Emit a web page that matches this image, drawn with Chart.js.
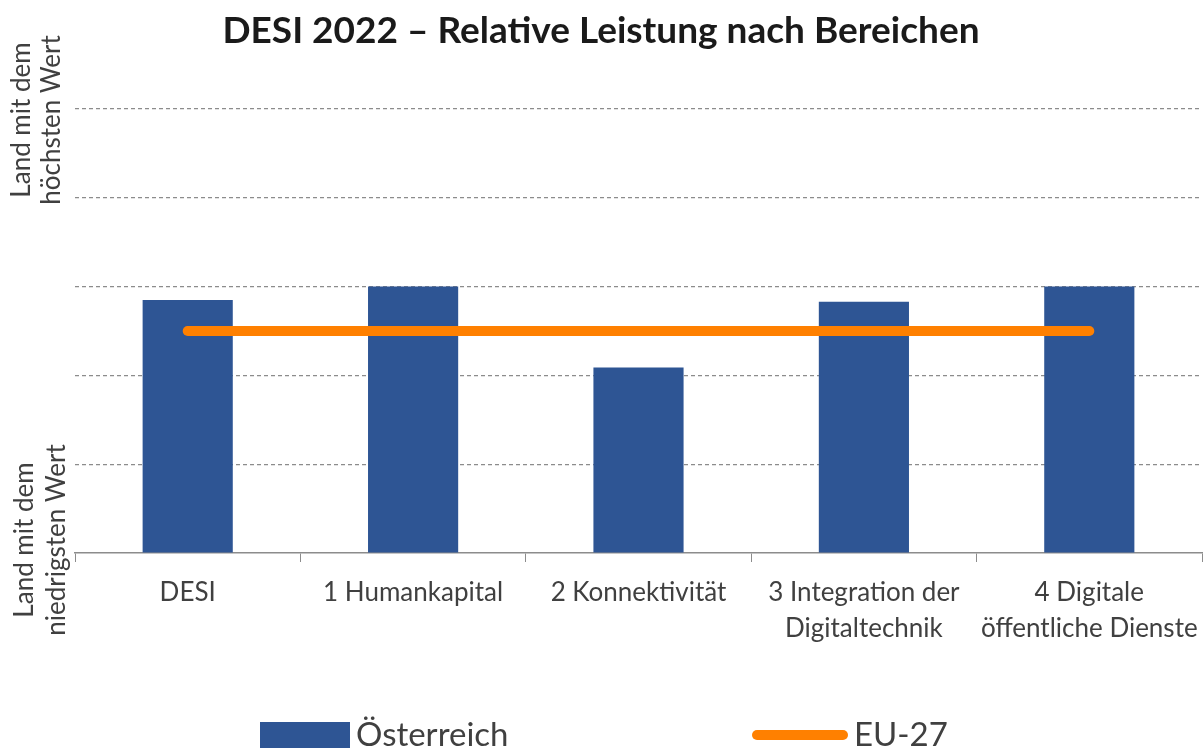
<!DOCTYPE html>
<html>
<head>
<meta charset="utf-8">
<script src="https://cdn.jsdelivr.net/npm/chart.js@4"></script>
<style>
  html, body { margin: 0; padding: 0; background: #fff; }
  #chart { display: block; }
</style>
</head>
<body>
<canvas id="chart" width="1204" height="749"></canvas>
<script>
// Data
const categories = [
    'DESI',
    '1 Humankapital',
    '2 Konnektivität',
    ['3 Integration der', 'Digitaltechnik'],
    ['4 Digitale', 'öffentliche Dienste']
];
const austriaValues = [2.85, 3.0, 2.09, 2.83, 3.0];
const eu27Values = [2.5, 2.5, 2.5, 2.5, 2.5];
const axisTopLabel = ['Land mit dem', 'höchsten Wert'];
const axisBottomLabel = ['Land mit dem', 'niedrigsten Wert'];

const BLUE = '#2E5594';
const ORANGE = '#FF8000';
const TEXT = '#404040';
const FONT = 'Lato, "Open Sans", sans-serif';

// draws the rotated side labels and the legend row at the bottom
const extrasPlugin = {
    id: 'extras',
    afterDraw(chart) {
        const ctx = chart.ctx;
        ctx.save();
        ctx.fillStyle = TEXT;
        ctx.font = '26px ' + FONT;
        ctx.textAlign = 'center';
        ctx.textBaseline = 'middle';

        function sideLabel(lines, cy, xs) {
            lines.forEach((t, i) => {
                ctx.save();
                ctx.translate(xs[i], cy);
                ctx.rotate(-Math.PI / 2);
                ctx.fillText(t, 0, 0);
                ctx.restore();
            });
        }
        sideLabel(axisTopLabel, 120, [22, 52]);
        sideLabel(axisBottomLabel, 540, [25, 57]);

        // legend
        const ds = chart.data.datasets;
        ctx.font = '33px ' + FONT;
        ctx.textAlign = 'left';
        ctx.textBaseline = 'alphabetic';
        ctx.fillStyle = ds[1].backgroundColor;
        ctx.fillRect(260, 722, 90, 26);
        ctx.fillStyle = TEXT;
        ctx.fillText(ds[1].label, 356, 746);

        ctx.strokeStyle = ds[0].borderColor;
        ctx.lineWidth = 10;
        ctx.lineCap = 'round';
        ctx.beginPath();
        ctx.moveTo(757, 735);
        ctx.lineTo(843, 735);
        ctx.stroke();
        ctx.fillText(ds[0].label, 854, 746);
        ctx.restore();
    }
};

new Chart(document.getElementById('chart'), {
    type: 'bar',
    data: {
        labels: categories,
        datasets: [
            {
                type: 'line',
                label: 'EU-27',
                data: eu27Values,
                borderColor: ORANGE,
                backgroundColor: ORANGE,
                borderWidth: 10,
                borderCapStyle: 'round',
                pointRadius: 0,
                order: 0
            },
            {
                label: 'Österreich',
                data: austriaValues,
                backgroundColor: BLUE,
                barPercentage: 0.4,
                categoryPercentage: 1,
                order: 1
            }
        ]
    },
    options: {
        responsive: false,
        animation: false,
        layout: { padding: { left: 0, right: 2, top: 0, bottom: 0 } },
        plugins: {
            legend: { display: false },
            tooltip: { enabled: false },
            title: {
                display: true,
                text: 'DESI 2022 – Relative Leistung nach Bereichen',
                color: '#1a1a1a',
                font: { family: FONT, size: 37, weight: 'bold', lineHeight: 1.2 },
                padding: { top: 9, bottom: 55.6 }
            }
        },
        scales: {
            x: {
                grid: {
                    offset: true,
                    drawOnChartArea: false,
                    drawTicks: true,
                    tickLength: 9,
                    color: '#8c8c8c'
                },
                border: { display: true, color: '#8c8c8c', width: 1.5 },
                ticks: {
                    color: TEXT,
                    font: { family: FONT, size: 26, lineHeight: 1.4 },
                    padding: 12,
                    maxRotation: 0,
                    autoSkip: false
                },
                afterFit(scale) {
                    scale.height = 196;
                    scale.paddingLeft = 0;
                    scale.paddingRight = 0;
                }
            },
            y: {
                min: 0,
                max: 5,
                ticks: { display: false, stepSize: 1 },
                border: { display: false, dash: [4, 3] },
                grid: {
                    drawTicks: false,
                    color: c => (c.tick && c.tick.value === 0) ? 'rgba(0,0,0,0)' : '#8c8c8c',
                    lineWidth: 1.2
                },
                afterFit(scale) {
                    scale.width = 75;
                    scale.paddingTop = 0;
                    scale.paddingBottom = 0;
                }
            }
        }
    },
    plugins: [extrasPlugin]
});
</script>
</body>
</html>
